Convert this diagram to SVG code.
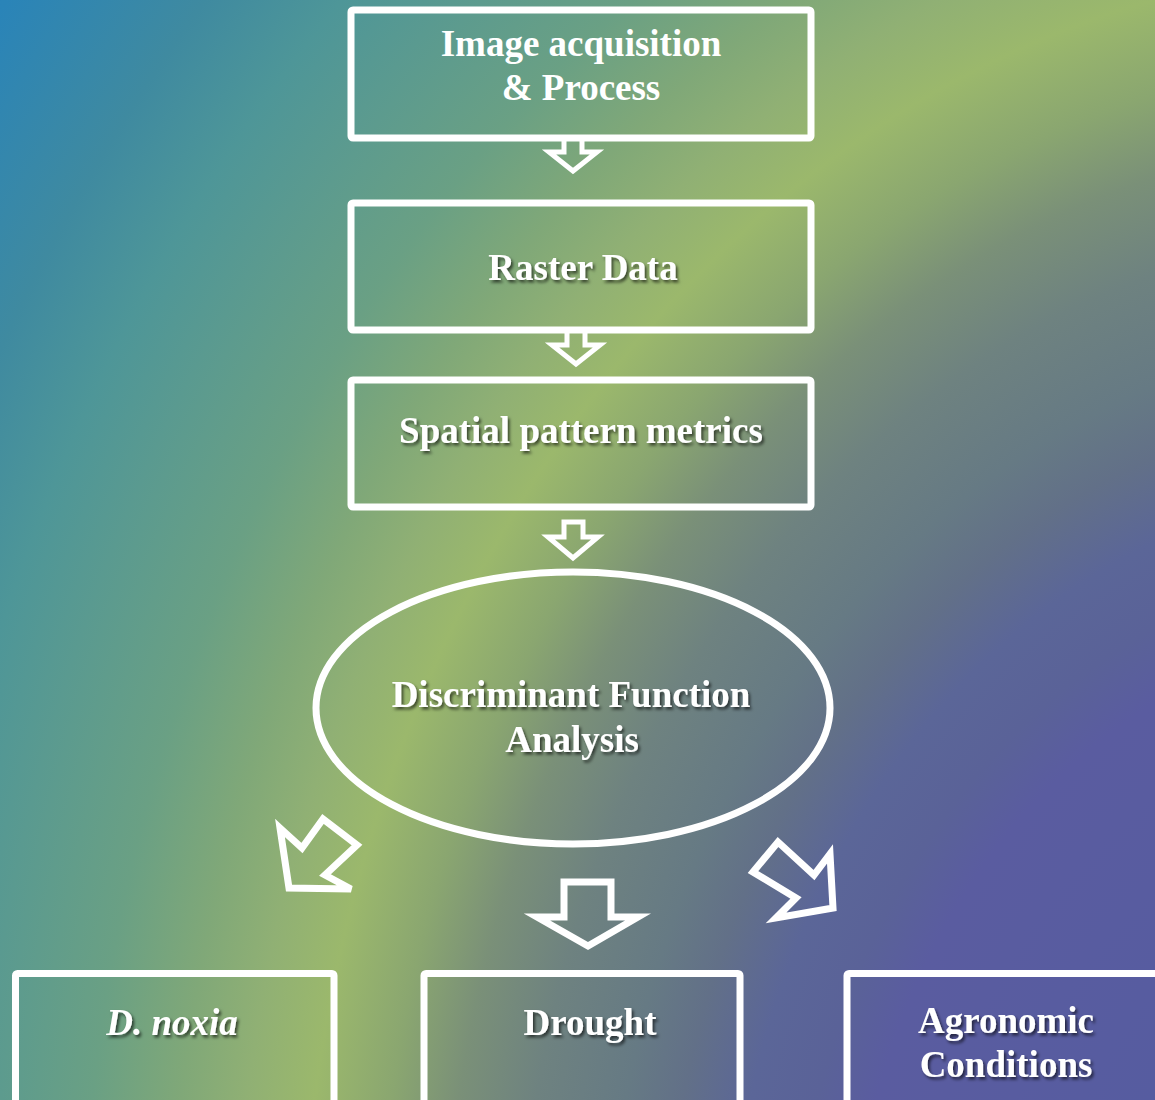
<svg xmlns="http://www.w3.org/2000/svg" width="1155" height="1100" viewBox="0 0 1155 1100">
  <defs>
    <radialGradient id="bg" gradientUnits="userSpaceOnUse" cx="0" cy="0" r="1.7" gradientTransform="translate(1400,1300) scale(1098,1334)">
      <stop offset="0" stop-color="#5558a2"/>
      <stop offset="0.159" stop-color="#565ca0"/>
      <stop offset="0.294" stop-color="#5a5ca0"/>
      <stop offset="0.324" stop-color="#5a6298"/>
      <stop offset="0.359" stop-color="#5b6698"/>
      <stop offset="0.394" stop-color="#627088"/>
      <stop offset="0.424" stop-color="#667a84"/>
      <stop offset="0.471" stop-color="#6e8280"/>
      <stop offset="0.512" stop-color="#7a9078"/>
      <stop offset="0.547" stop-color="#8aa670"/>
      <stop offset="0.588" stop-color="#9bb86c"/>
      <stop offset="0.624" stop-color="#90b074"/>
      <stop offset="0.659" stop-color="#80a878"/>
      <stop offset="0.706" stop-color="#6aa084"/>
      <stop offset="0.765" stop-color="#5a9a90"/>
      <stop offset="0.806" stop-color="#4e9698"/>
      <stop offset="0.859" stop-color="#3f8aa0"/>
      <stop offset="0.941" stop-color="#2a84b8"/>
      <stop offset="1" stop-color="#2882ba"/>
    </radialGradient>
    <filter id="shadow" x="-10%" y="-30%" width="120%" height="160%">
      <feDropShadow dx="2" dy="2.5" stdDeviation="1.5" flood-color="#000" flood-opacity="0.6"/>
    </filter>
  </defs>
  <style>
    .box { fill: none; stroke: #fff; stroke-width: 7; stroke-linejoin: round; }
    .arr { fill: none; stroke: #fff; stroke-width: 5; stroke-linejoin: miter; }
    .arrb { fill: none; stroke: #fff; stroke-width: 7; stroke-linejoin: miter; }
    .lbl { font-family: "Liberation Serif", "Times New Roman", serif; font-weight: bold; font-size: 37px; fill: #fff; text-anchor: middle; }
    .sh { filter: url(#shadow); }
  </style>
  <rect x="0" y="0" width="1155" height="1100" fill="url(#bg)"/>

  <g id="connectors">
    <polygon class="arr" points="564,138 582,138 582,152 597,152 573,171 549,152 564,152"/>
    <polygon class="arr" points="567,330 585,330 585,345 600,345 576,364 552,345 567,345"/>
    <polygon class="arr" points="564,522 583,522 583,537 598,537 573,558 548,537 564,537"/>
    <polygon class="arrb" points="280,828 302,848 323,819 357,845 325,875 351,889 289,888"/>
    <polygon class="arrb" points="564,882 611,882 611,917 638,917 588,946 537,917 564,917"/>
    <polygon class="arrb" points="753,872 778,842 814,875 830,854 833,908 776,918 796,898"/>
  </g>

  <g id="node-image">
    <rect class="box" x="351" y="10" width="460" height="128" rx="2"/>
    <text class="lbl" x="581" y="56">Image acquisition</text>
    <text class="lbl" x="581" y="100">&amp; Process</text>
  </g>
  <g id="node-raster">
    <rect class="box" x="351" y="203" width="460" height="127" rx="2"/>
    <text class="lbl sh" x="583" y="280">Raster Data</text>
  </g>
  <g id="node-spatial">
    <rect class="box" x="351" y="380" width="460" height="127" rx="2"/>
    <text class="lbl sh" x="581" y="443">Spatial pattern metrics</text>
  </g>
  <g id="node-dfa">
    <ellipse class="box" cx="573" cy="708" rx="257" ry="136"/>
    <text class="lbl sh" x="571" y="707">Discriminant Function</text>
    <text class="lbl sh" x="572" y="752">Analysis</text>
  </g>
  <g id="node-dnoxia">
    <rect class="box" x="15.5" y="973.5" width="318.5" height="140" rx="2"/>
    <text class="lbl sh" x="172" y="1035" font-style="italic">D. noxia</text>
  </g>
  <g id="node-drought">
    <rect class="box" x="424" y="973.5" width="316" height="140" rx="2"/>
    <text class="lbl sh" x="590" y="1035">Drought</text>
  </g>
  <g id="node-agronomic">
    <rect class="box" x="847" y="973.5" width="340" height="140" rx="2"/>
    <text class="lbl sh" x="1006" y="1033">Agronomic</text>
    <text class="lbl sh" x="1006" y="1077">Conditions</text>
  </g>
</svg>
